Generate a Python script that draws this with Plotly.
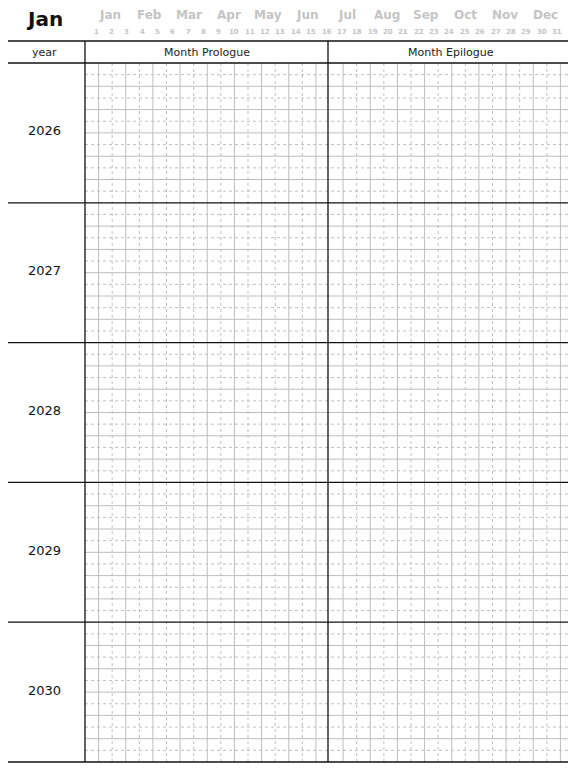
import plotly.graph_objects as go

title = "Jan"
months = ["Jan", "Feb", "Mar", "Apr", "May", "Jun", "Jul", "Aug", "Sep", "Oct", "Nov", "Dec"]
days = list(range(1, 32))
years = [2026, 2027, 2028, 2029, 2030]
sections = ["Month Prologue", "Month Epilogue"]

W, H = 576, 768
OFF = 8  # page body margin in the browser
left, right, top, bottom = 3, 574, 41, 762
head_h = 22
year_w = 82
x0 = left + year_w
mid = 328
block_h = (bottom - top - head_h) / len(years)

fig = go.Figure()

def lines(segs, color, width, dash="solid"):
    xs, ys = [], []
    for (a, b, c, d) in segs:
        xs += [a, c, None]
        ys += [b, d, None]
    fig.add_trace(go.Scatter(x=xs, y=ys, mode="lines", hoverinfo="skip",
                             line=dict(color=color, width=width, dash=dash)))

# grid lines inside the blocks
sub_w = (right - x0) / 36.0
solid_v, dot_v = [], []
for i in range(1, 36):
    if i == 18:
        continue
    x = x0 + i * sub_w
    (solid_v if i % 2 == 1 else dot_v).append((x, top + head_h, x, bottom))
solid_h, dot_h = [], []
sub_h = block_h / 12.0
for b in range(len(years)):
    y_b = top + head_h + b * block_h
    for j in range(1, 12):
        y = y_b + j * sub_h
        (solid_h if j % 2 == 0 else dot_h).append((x0, y, right, y))
lines(dot_v + dot_h, "#c0c0c0", 1, "dot")
lines(solid_v + solid_h, "#bdbdbd", 1)

# frame
frame = [(left, top, right, top), (left, bottom, right, bottom),
         (left, top, left, bottom), (right, top, right, bottom),
         (x0, top, x0, bottom), (mid, top, mid, bottom),
         (left, top + head_h, right, top + head_h)]
for b in range(1, len(years)):
    y = top + head_h + b * block_h
    frame.append((left, y, right, y))
lines(frame, "#111111", 1.3)

ann = []
ann.append(dict(x=44, y=19, text="<b>" + title + "</b>", font=dict(size=20, color="#111")))
mx0, mx1 = 110, 545
for i, m in enumerate(months):
    ann.append(dict(x=mx0 + i * (mx1 - mx0) / 11, y=15, text="<b>" + m + "</b>",
                    font=dict(size=12, color="#c4c4c4")))
dx0, dx1 = 96, 557
for i, d in enumerate(days):
    ann.append(dict(x=dx0 + i * (dx1 - dx0) / 30, y=32, text="<b>%d</b>" % d,
                    font=dict(size=7, color="#c4c4c4")))
ann.append(dict(x=(left + x0) / 2, y=top + head_h / 2, text="year", font=dict(size=11, color="#222")))
ann.append(dict(x=(x0 + mid) / 2, y=top + head_h / 2, text=sections[0], font=dict(size=11, color="#222")))
ann.append(dict(x=(mid + right) / 2, y=top + head_h / 2, text=sections[1], font=dict(size=11, color="#222")))
for b, yr in enumerate(years):
    ann.append(dict(x=(left + x0) / 2, y=top + head_h + (b + 0.5) * block_h - 2, text=str(yr),
                    font=dict(size=13, color="#111")))
for a in ann:
    a.update(showarrow=False, xref="x", yref="y")
    a["font"]["family"] = "DejaVu Sans"

fig.update_layout(
    width=W, height=H, margin=dict(l=0, r=0, t=0, b=0),
    paper_bgcolor="white", plot_bgcolor="white", showlegend=False,
    xaxis=dict(range=[OFF, W + OFF], visible=False, fixedrange=True),
    yaxis=dict(range=[H + OFF, OFF], visible=False, fixedrange=True),
    annotations=ann,
)

fig.write_html("out.html", config={"displayModeBar": False})
